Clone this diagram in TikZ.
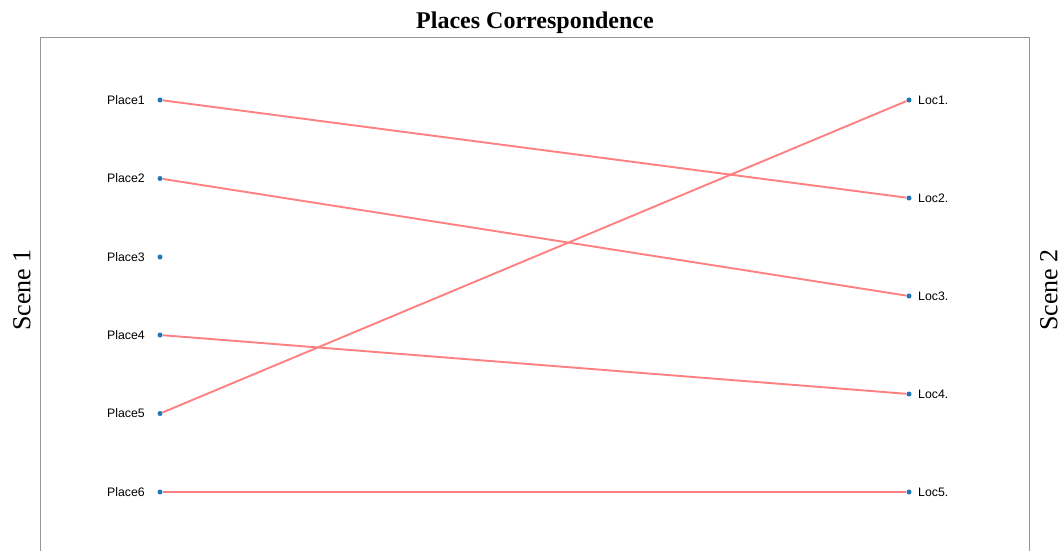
\documentclass[tikz,border=0pt]{standalone}
\usepackage{fontspec}
\setmainfont{Liberation Serif}
\newfontfamily\labfont{Liberation Sans}
\definecolor{dotblue}{RGB}{31,119,180}
\definecolor{linkred}{RGB}{255,128,128}
\definecolor{framegray}{RGB}{150,150,150}
\begin{document}
\begin{tikzpicture}[x=1pt,y=-1pt,
  pt/.style={circle,fill=dotblue,inner sep=0pt,minimum size=5pt},
  llab/.style={anchor=east,inner sep=0pt,font=\labfont\fontsize{12.3}{14}\selectfont},
  rlab/.style={anchor=west,inner sep=0pt,font=\labfont\fontsize{12.3}{14}\selectfont},
  link/.style={draw=linkred,line width=1.9pt},
  frame/.style={draw=framegray,line width=1pt},
  scene/.style={rotate=90,font=\fontsize{26}{30}\selectfont}]
\useasboundingbox (0,0) rectangle (1064,550);
% frame
\coordinate (fbl) at (40,551);
\coordinate (ftl) at (40,37.5);
\coordinate (ftr) at (1029.5,37.5);
\coordinate (fbr) at (1029.5,551);
\draw[frame] (fbl) -- (ftl) -- (ftr) -- (fbr);
% title
\node[font=\bfseries\fontsize{24}{28}\selectfont] (title) at (535,22.5) {Places Correspondence};
\node[scene] (s1) at (22,290) {Scene 1};
\node[scene] (s2) at (1049,290) {Scene 2};
% left points
\foreach \i/\y in {1/100,2/178.5,3/257,4/335,5/413.5,6/492}{
  \node[pt] (p\i) at (160,\y) {};
  \node[llab] (pl\i) at (145,\y) {Place\i};
}
% right points
\foreach \i/\y in {1/100,2/198,3/296,4/394,5/492}{
  \node[pt] (l\i) at (909,\y) {};
  \node[rlab] (ll\i) at (918,\y) {Loc\i.};
}
% links
\draw[link] (p1) -- (l2);
\draw[link] (p2) -- (l3);
\draw[link] (p4) -- (l4);
\draw[link] (p5) -- (l1);
\draw[link] (p6) -- (l5);
\end{tikzpicture}
\end{document}
